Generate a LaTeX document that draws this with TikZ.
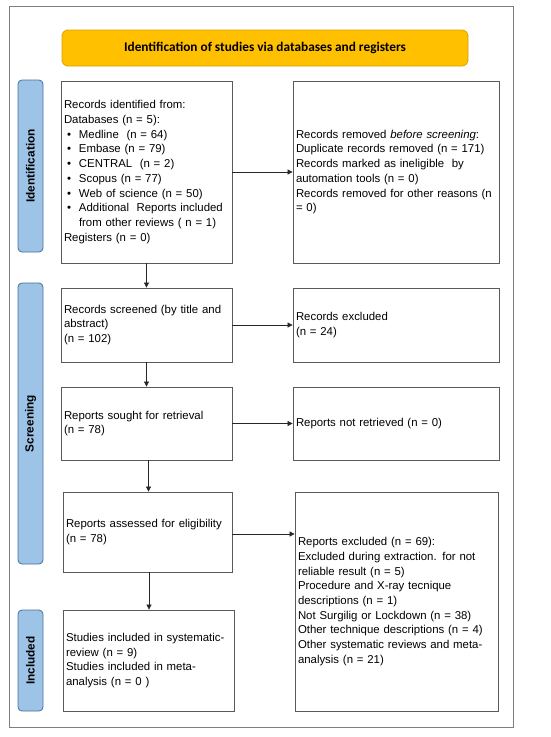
\documentclass[tikz,border=0pt]{standalone}
\usepackage{fontspec}
\setmainfont{Liberation Sans}
\newfontfamily\bannerfont{Carlito}
\usetikzlibrary{arrows.meta,positioning}
\definecolor{bannerfill}{HTML}{FFC000}
\definecolor{bannerdraw}{HTML}{D9A300}
\definecolor{phasefill}{HTML}{9DC3E6}
\definecolor{phasedraw}{HTML}{41719C}
\definecolor{boxdraw}{HTML}{5A5A5A}
\definecolor{framedraw}{HTML}{7F7F7F}
\definecolor{arrowcol}{HTML}{262626}
\newcommand{\bul}{\hspace*{3pt}\makebox[12pt][l]{•}}
\newcommand{\ind}{\hspace*{15pt}}
\begin{document}
\begin{tikzpicture}[x=1pt,y=-1pt,
  flowbox/.style={draw=boxdraw,line width=0.8pt,rectangle,inner sep=3pt,align=left,
    font=\fontsize{11.4}{14.7}\selectfont},
  phase/.style={draw=phasedraw,fill=phasefill,line width=0.8pt,rounded corners=4pt,
    minimum width=25pt},
  phasetext/.style={rotate=90,font=\fontsize{11.8}{13}\selectfont\bfseries},
  flow/.style={draw=arrowcol,line width=0.7pt,-{Triangle[length=5pt,width=5pt]}}]
\useasboundingbox (0,0) rectangle (550,737);
\draw[framedraw,line width=1pt] (9,6) rectangle (513,727);

% banner
\node[draw=bannerdraw,fill=bannerfill,line width=0.8pt,rounded corners=6pt,
  minimum width=406pt,minimum height=36pt,
  font=\bannerfont\fontsize{13.3}{15}\selectfont\bfseries] (banner) at (265,48)
  {Identification of studies via databases and registers};

% phase labels
\node[phase,minimum height=172pt] (pid) at (30.5,166) {};
\node[phasetext] (pidt) at (pid.center) {Identification};
\node[phase,minimum height=281pt] (pscr) at (30.5,423.5) {};
\node[phasetext] (pscrt) at (pscr.center) {Screening};
\node[phase,minimum height=101pt] (pinc) at (30.5,660.5) {};
\node[phasetext] (pinct) at (pinc.center) {Included};

% boxes
\node[flowbox,minimum width=171pt,minimum height=182pt,text width=165pt] (ident) at (146.5,172)
{Records identified from:\\
Databases (n = 5):\\
\bul Medline\ \ (n = 64)\\
\bul Embase (n = 79)\\
\bul CENTRAL\ \ (n = 2)\\
\bul Scopus (n = 77)\\
\bul Web of science (n = 50)\\
\bul Additional\ \ Reports included\\
\ind from other reviews ( n = 1)\\
Registers (n = 0)};

\node[flowbox,minimum width=206pt,minimum height=182pt,text width=200pt] (removed) at (396,172)
{Records removed \textit{before screening}:\\
Duplicate records removed (n = 171)\\
Records marked as ineligible\ \ by\\
automation tools (n = 0)\\
Records removed for other reasons (n\\
= 0)};

\node[flowbox,minimum width=171pt,minimum height=74pt,text width=165pt] (screened) at (146.5,325)
{Records screened (by title and\\
abstract)\\
(n = 102)};

\node[flowbox,minimum width=206pt,minimum height=74pt,text width=200pt] (excluded) at (396,325)
{Records excluded\\
(n = 24)};

\node[flowbox,minimum width=171pt,minimum height=73pt,text width=165pt] (sought) at (146.5,423.5)
{Reports sought for retrieval\\
(n = 78)};

\node[flowbox,minimum width=206pt,minimum height=73pt,text width=200pt] (notret) at (396,423.5)
{Reports not retrieved (n = 0)};

\node[flowbox,minimum width=169pt,minimum height=80pt,text width=163pt] (elig) at (147.5,532)
{Reports assessed for eligibility\\
(n = 78)};

\node[flowbox,minimum width=203pt,minimum height=219pt,text width=197pt] (repexc) at (396.5,601.5)
{Reports excluded (n = 69):\\
Excluded during extraction. for not\\
reliable result (n = 5)\\
Procedure and X-ray tecnique\\
descriptions (n = 1)\\
Not Surgilig or Lockdown (n = 38)\\
Other technique descriptions (n = 4)\\
Other systematic reviews and meta-\\
analysis (n = 21)};

\node[flowbox,minimum width=171pt,minimum height=101pt,text width=165pt] (incl) at (148.5,660.5)
{Studies included in systematic-\\
review (n = 9)\\
Studies included in meta-\\
analysis (n = 0 )};

% connectors
\draw[flow] (ident.south) -- (screened.north);
\draw[flow] (screened.south) -- (sought.north);
\draw[flow] ([xshift=2pt]sought.south) -- ([xshift=2pt]sought.south |- elig.north);
\draw[flow] ([xshift=1.5pt]elig.south) -- ([xshift=1.5pt]elig.south |- incl.north);
\draw[flow] (ident.east) -- (removed.west);
\draw[flow] (screened.east) -- (excluded.west);
\draw[flow] (sought.east) -- (notret.west);
\draw[flow] ([yshift=-2pt]elig.east) -- ([yshift=-2pt]elig.east -| repexc.west);
\end{tikzpicture}
\end{document}
